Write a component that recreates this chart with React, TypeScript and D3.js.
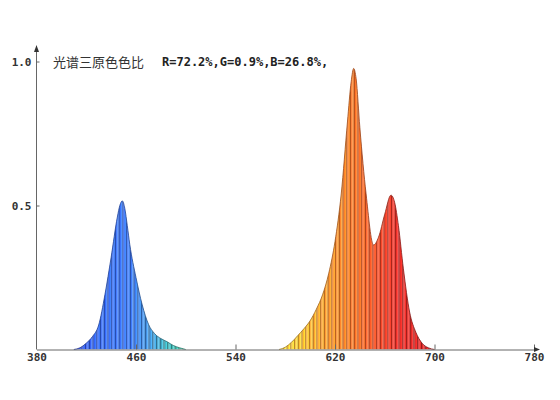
import React, { useEffect, useRef } from 'react';
import * as d3 from 'd3';

const W = 560;
const H = 400;

// spectrum (nm, relative intensity)
const blueNm = [410, 415, 420, 425, 430, 435, 440, 445, 447, 449, 451, 453, 455, 460, 465, 470, 475, 480, 485, 490, 495, 500];
const blueVal = [0, 0.006, 0.022, 0.045, 0.085, 0.19, 0.32, 0.46, 0.5, 0.516, 0.49, 0.43, 0.365, 0.25, 0.155, 0.088, 0.055, 0.038, 0.027, 0.014, 0.006, 0];

const redNm = [575, 580, 585, 590, 595, 600, 605, 610, 615, 620, 625, 630, 633, 635, 637, 640, 645, 651, 655, 660, 665, 668, 671, 675, 680, 685, 690, 695, 700];
const redVal = [0, 0.008, 0.025, 0.048, 0.072, 0.1, 0.14, 0.19, 0.265, 0.375, 0.54, 0.79, 0.93, 0.976, 0.94, 0.77, 0.54, 0.363, 0.39, 0.47, 0.536, 0.51, 0.43, 0.28, 0.13, 0.06, 0.022, 0.006, 0];

// colour of each wavelength
const colorNm = [410, 430, 455, 470, 485, 500, 575, 595, 610, 625, 640, 655, 670, 700];
const colorHex = ['#2d48d8', '#3060e6', '#356cea', '#3d86cc', '#38a4ac', '#3fb494', '#f2c43a', '#f6aa2a', '#f6902a', '#f27a26', '#ec6222', '#e44424', '#d82a24', '#c01c1e'];

const xTicks = [380, 460, 540, 620, 700, 780];
const yTicks = [0.5, 1.0];
const title = '光谱三原色色比';
const ratioText = 'R=72.2%,G=0.9%,B=26.8%,';

const x = d3.scaleLinear().domain([380, 780]).range([36.5, 534]);
const y = d3.scaleLinear().domain([0, 1]).range([349.5, 61.5]);
const color = d3.scaleLinear<string>().domain(colorNm).range(colorHex).clamp(true);

const area = d3
  .area<[number, number]>()
  .x((d) => x(d[0]))
  .y0(y(0))
  .y1((d) => y(d[1]))
  .curve(d3.curveMonotoneX);

const line = d3
  .line<[number, number]>()
  .x((d) => x(d[0]))
  .y((d) => y(d[1]))
  .curve(d3.curveMonotoneX);

const bands = [
  { id: 'blue', pts: d3.zip(blueNm, blueVal) as [number, number][] },
  { id: 'red', pts: d3.zip(redNm, redVal) as [number, number][] },
];

const Stripes: React.FC<{ from: number; to: number }> = ({ from, to }) => {
  const nms = d3.range(from, to);
  return (
    <>
      {nms.map((nm, i) => {
        const base = d3.color(color(nm + 0.5))!;
        const c = i % 3 === 0 ? base.darker(0.75) : i % 3 === 1 ? base.brighter(0.25) : base.brighter(0.75);
        return (
          <rect
            key={nm}
            x={x(nm)}
            y={y(1)}
            width={x(nm + 1) - x(nm) + 0.1}
            height={y(0) - y(1)}
            fill={c.formatHex()}
          />
        );
      })}
    </>
  );
};

export default function App() {
  const xRef = useRef<SVGGElement>(null);
  const yRef = useRef<SVGGElement>(null);

  useEffect(() => {
    const xa = d3
      .axisBottom(x)
      .tickValues(xTicks)
      .tickSizeInner(-5)
      .tickSizeOuter(0)
      .tickPadding(4)
      .tickFormat((d) => String(d));
    const gx = d3.select(xRef.current!).call(xa);
    gx.selectAll('text')
      .attr('font-family', 'DejaVu Sans Mono')
      .attr('font-size', 11)
      .attr('font-weight', 'bold')
      .attr('fill', '#333');
    gx.selectAll('line,path').attr('stroke', '#666');
    gx.selectAll('.tick').filter((d) => d === 380).select('line').remove();

    const ya = d3
      .axisLeft(y)
      .tickValues(yTicks)
      .tickSizeInner(-3)
      .tickSizeOuter(0)
      .tickPadding(5)
      .tickFormat(d3.format('.1f'));
    const gy = d3.select(yRef.current!).call(ya);
    gy.select('.domain').remove();
    gy.selectAll('text')
      .attr('font-family', 'DejaVu Sans Mono')
      .attr('font-size', 11)
      .attr('font-weight', 'bold')
      .attr('fill', '#333');
    gy.selectAll('line').attr('stroke', '#666');
  }, []);

  return (
    <svg width={W} height={H} style={{ position: 'absolute', left: 0, top: 0, background: '#fff' }}>
      <defs>
        {bands.map((b) => (
          <clipPath id={`clip-${b.id}`} key={b.id}>
            <path d={area(b.pts)!} />
          </clipPath>
        ))}
        <linearGradient id="edge" gradientUnits="userSpaceOnUse" x1={x(380)} x2={x(780)} y1={0} y2={0}>
          {colorNm.map((nm, i) => (
            <stop key={nm} offset={(nm - 380) / 400} stopColor={d3.color(colorHex[i])!.darker(1.2).formatHex()} />
          ))}
        </linearGradient>
      </defs>

      {bands.map((b) => (
        <g key={b.id}>
          <g clipPath={`url(#clip-${b.id})`}>
            <Stripes from={b.pts[0][0]} to={b.pts[b.pts.length - 1][0]} />
          </g>
          <path d={line(b.pts)!} fill="none" stroke="url(#edge)" strokeWidth={0.8} />
        </g>
      ))}

      {/* axes */}
      <line x1={x(380)} x2={x(380)} y1={y(0)} y2={48} stroke="#666" />
      <path d={`M${x(380) - 2.5},${52} L${x(380)},${45} L${x(380) + 2.5},${52} Z`} fill="#333" />
      <g ref={xRef} transform={`translate(0,${y(0)})`} />
      <path d={`M${x(780)},${y(0) - 2.5} L${x(780) + 6},${y(0)} L${x(780)},${y(0) + 2.5} Z`} fill="#333" />
      <g ref={yRef} transform={`translate(${x(380)},0)`} />

      <text x={53} y={y(1) + 5} fontFamily="Noto Sans CJK SC" fontSize={13} fill="#333">
        {title}
      </text>
      <text x={162} y={y(1) + 4} fontFamily="DejaVu Sans Mono" fontSize={12} fontWeight="bold" fill="#222">
        {ratioText}
      </text>
    </svg>
  );
}
